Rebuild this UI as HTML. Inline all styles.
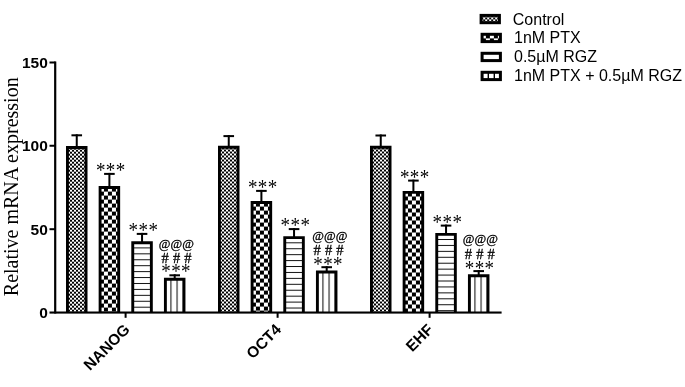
<!DOCTYPE html>
<html lang="en"><head><meta charset="utf-8"><title>Relative mRNA expression</title>
<style>html,body{margin:0;padding:0;background:#fff}body{width:685px;height:387px;overflow:hidden}svg{display:block}.ab{font-family:"Liberation Sans",Arial,sans-serif;font-weight:bold;font-size:15.5px;fill:#000}.lg{font-family:"Liberation Sans",Arial,sans-serif;font-size:16px;fill:#000}.se{font-family:"Liberation Serif","Times New Roman",serif;fill:#000}</style></head><body>
<svg width="685" height="387" viewBox="0 0 685 387">
<defs>
<pattern id="p1" width="4" height="4" patternUnits="userSpaceOnUse" x="0" y="1.7"><rect width="4" height="4" fill="#000"/><rect x="2" y="0" width="2" height="2" fill="#fff"/><rect x="0" y="2" width="2" height="2" fill="#fff"/></pattern>
<pattern id="p1b" width="4" height="4" patternUnits="userSpaceOnUse" x="1.6" y="3.5"><rect width="4" height="4" fill="#000"/><rect x="2" y="0" width="2" height="2" fill="#fff"/><rect x="0" y="2" width="2" height="2" fill="#fff"/></pattern>
<pattern id="p2" width="8" height="8" patternUnits="userSpaceOnUse" x="1.3" y="1.6"><rect width="8" height="8" fill="#000"/><rect x="0" y="0" width="4" height="4" fill="#fff"/><rect x="4" y="4" width="4" height="4" fill="#fff"/></pattern>
<pattern id="p3" width="5.93" height="5.93" patternUnits="userSpaceOnUse" y="0.17"><rect width="5.93" height="5.93" fill="#fff"/><rect x="0" y="0" width="5.93" height="1" fill="#111"/></pattern>
<pattern id="p4" width="6.1" height="6.1" patternUnits="userSpaceOnUse" x="0.4"><rect width="6.1" height="6.1" fill="#fff"/><rect x="0" y="0" width="1" height="6.1" fill="#000"/></pattern>
</defs>
<rect width="685" height="387" fill="#fff"/>
<g transform="translate(66.00,146.00)">
<rect x="1" y="1" width="19.5" height="165.50" fill="url(#p1)"/>
<path d="M1.45 166.50V1.45H20.05V166.50" fill="none" stroke="#000" stroke-width="2.9"/>
</g>
<rect x="75.75" y="134.30" width="2" height="12.70" fill="#000"/>
<rect x="71.45" y="134.30" width="10.6" height="2" fill="#000"/>
<g transform="translate(98.65,186.00)">
<rect x="1" y="1" width="19.5" height="125.50" fill="url(#p2)"/>
<path d="M1.45 126.50V1.45H20.05V126.50" fill="none" stroke="#000" stroke-width="2.9"/>
</g>
<rect x="108.40" y="172.90" width="2" height="14.10" fill="#000"/>
<rect x="104.10" y="172.90" width="10.6" height="2" fill="#000"/>
<text class="se" transform="translate(110.82,176.90) scale(1,1.1)" font-size="19" letter-spacing="0.45" text-anchor="middle">***</text>
<g transform="translate(131.30,241.30)">
<rect x="1" y="1" width="19.5" height="70.20" fill="url(#p3)"/>
<path d="M1.45 71.20V1.45H20.05V71.20" fill="none" stroke="#000" stroke-width="2.9"/>
</g>
<rect x="141.05" y="232.90" width="2" height="9.40" fill="#000"/>
<rect x="136.75" y="232.90" width="10.6" height="2" fill="#000"/>
<text class="se" transform="translate(143.47,236.90) scale(1,1.1)" font-size="19" letter-spacing="0.45" text-anchor="middle">***</text>
<g transform="translate(163.95,277.75)">
<rect x="1" y="1" width="19.5" height="33.75" fill="url(#p4)"/>
<path d="M1.45 34.75V1.45H20.05V34.75" fill="none" stroke="#000" stroke-width="2.9"/>
</g>
<rect x="173.70" y="274.30" width="2" height="4.45" fill="#000"/>
<rect x="169.40" y="274.30" width="10.6" height="2" fill="#000"/>
<text class="se" transform="translate(176.12,278.30) scale(1,1.1)" font-size="19" letter-spacing="0.45" text-anchor="middle">***</text>
<text class="se" x="176.50" y="262.50" font-size="14.5" text-anchor="middle" word-spacing="0.5" stroke="#000" stroke-width="0.3"># # #</text>
<text class="se" x="176.40" y="247.80" font-size="12.7" text-anchor="middle" stroke="#000" stroke-width="0.3">@@@</text>
<g transform="translate(218.00,145.80)">
<rect x="1" y="1" width="19.5" height="165.70" fill="url(#p1)"/>
<path d="M1.45 166.70V1.45H20.05V166.70" fill="none" stroke="#000" stroke-width="2.9"/>
</g>
<rect x="227.75" y="135.10" width="2" height="11.70" fill="#000"/>
<rect x="223.45" y="135.10" width="10.6" height="2" fill="#000"/>
<g transform="translate(250.65,201.00)">
<rect x="1" y="1" width="19.5" height="110.50" fill="url(#p2)"/>
<path d="M1.45 111.50V1.45H20.05V111.50" fill="none" stroke="#000" stroke-width="2.9"/>
</g>
<rect x="260.40" y="189.90" width="2" height="12.10" fill="#000"/>
<rect x="256.10" y="189.90" width="10.6" height="2" fill="#000"/>
<text class="se" transform="translate(262.82,193.90) scale(1,1.1)" font-size="19" letter-spacing="0.45" text-anchor="middle">***</text>
<g transform="translate(283.30,236.20)">
<rect x="1" y="1" width="19.5" height="75.30" fill="url(#p3)"/>
<path d="M1.45 76.30V1.45H20.05V76.30" fill="none" stroke="#000" stroke-width="2.9"/>
</g>
<rect x="293.05" y="228.10" width="2" height="9.10" fill="#000"/>
<rect x="288.75" y="228.10" width="10.6" height="2" fill="#000"/>
<text class="se" transform="translate(295.47,232.10) scale(1,1.1)" font-size="19" letter-spacing="0.45" text-anchor="middle">***</text>
<g transform="translate(315.95,270.50)">
<rect x="1" y="1" width="19.5" height="41.00" fill="url(#p4)"/>
<path d="M1.45 42.00V1.45H20.05V42.00" fill="none" stroke="#000" stroke-width="2.9"/>
</g>
<rect x="325.70" y="266.20" width="2" height="5.30" fill="#000"/>
<rect x="321.40" y="266.20" width="10.6" height="2" fill="#000"/>
<text class="se" transform="translate(328.12,270.70) scale(1,1.1)" font-size="19" letter-spacing="0.45" text-anchor="middle">***</text>
<text class="se" x="328.50" y="255.20" font-size="14.5" text-anchor="middle" word-spacing="0.5" stroke="#000" stroke-width="0.3"># # #</text>
<text class="se" x="329.80" y="239.70" font-size="12.7" text-anchor="middle" stroke="#000" stroke-width="0.3">@@@</text>
<g transform="translate(370.00,145.80)">
<rect x="1" y="1" width="19.5" height="165.70" fill="url(#p1)"/>
<path d="M1.45 166.70V1.45H20.05V166.70" fill="none" stroke="#000" stroke-width="2.9"/>
</g>
<rect x="379.75" y="134.50" width="2" height="12.30" fill="#000"/>
<rect x="375.45" y="134.50" width="10.6" height="2" fill="#000"/>
<g transform="translate(402.65,190.90)">
<rect x="1" y="1" width="19.5" height="120.60" fill="url(#p2)"/>
<path d="M1.45 121.60V1.45H20.05V121.60" fill="none" stroke="#000" stroke-width="2.9"/>
</g>
<rect x="412.40" y="179.60" width="2" height="12.30" fill="#000"/>
<rect x="408.10" y="179.60" width="10.6" height="2" fill="#000"/>
<text class="se" transform="translate(414.82,183.60) scale(1,1.1)" font-size="19" letter-spacing="0.45" text-anchor="middle">***</text>
<g transform="translate(435.30,232.90)">
<rect x="1" y="1" width="19.5" height="78.60" fill="url(#p3)"/>
<path d="M1.45 79.60V1.45H20.05V79.60" fill="none" stroke="#000" stroke-width="2.9"/>
</g>
<rect x="445.05" y="224.60" width="2" height="9.30" fill="#000"/>
<rect x="440.75" y="224.60" width="10.6" height="2" fill="#000"/>
<text class="se" transform="translate(447.47,228.60) scale(1,1.1)" font-size="19" letter-spacing="0.45" text-anchor="middle">***</text>
<g transform="translate(467.95,274.30)">
<rect x="1" y="1" width="19.5" height="37.20" fill="url(#p4)"/>
<path d="M1.45 38.20V1.45H20.05V38.20" fill="none" stroke="#000" stroke-width="2.9"/>
</g>
<rect x="477.70" y="270.10" width="2" height="5.20" fill="#000"/>
<rect x="473.40" y="270.10" width="10.6" height="2" fill="#000"/>
<text class="se" transform="translate(479.62,275.10) scale(1,1.1)" font-size="19" letter-spacing="0.45" text-anchor="middle">***</text>
<text class="se" x="479.80" y="258.80" font-size="14.5" text-anchor="middle" word-spacing="0.5" stroke="#000" stroke-width="0.3"># # #</text>
<text class="se" x="480.40" y="243.10" font-size="12.7" text-anchor="middle" stroke="#000" stroke-width="0.3">@@@</text>
<rect x="54.1" y="61.5" width="2.2" height="252" fill="#000"/>
<rect x="49.5" y="311.5" width="452.1" height="2.1" fill="#000"/>
<rect x="49.5" y="61.50" width="6" height="2" fill="#000"/>
<text class="ab" x="47.8" y="67.80" text-anchor="end">150</text>
<rect x="49.5" y="144.75" width="6" height="2" fill="#000"/>
<text class="ab" x="47.8" y="151.05" text-anchor="end">100</text>
<rect x="49.5" y="228.20" width="6" height="2" fill="#000"/>
<text class="ab" x="47.8" y="234.50" text-anchor="end">50</text>
<text class="ab" x="47.8" y="317.80" text-anchor="end">0</text>
<rect x="124.60" y="312" width="2" height="5.8" fill="#000"/>
<text class="ab" transform="translate(130.90,330.50) rotate(-45)" text-anchor="end">NANOG</text>
<rect x="276.60" y="312" width="2" height="5.8" fill="#000"/>
<text class="ab" transform="translate(282.10,330.50) rotate(-45)" text-anchor="end">OCT4</text>
<rect x="428.60" y="312" width="2" height="5.8" fill="#000"/>
<text class="ab" transform="translate(434.10,330.50) rotate(-45)" text-anchor="end">EHF</text>
<text class="se" font-size="20" transform="translate(18.2,296.2) rotate(-90)">Relative mRNA expression</text>
<g transform="translate(479.6,13.9)">
<rect x="1" y="1" width="19.3" height="8.3" fill="url(#p1b)"/>
<rect x="1.5" y="1.5" width="18.3" height="7.3" fill="none" stroke="#000" stroke-width="3"/></g>
<text class="lg" x="512.8" y="24.7">Control</text>
<g transform="translate(480.6,32.8)">
<rect x="1" y="1" width="19.3" height="8.3" fill="url(#p2)"/>
<rect x="1.5" y="1.5" width="18.3" height="7.3" fill="none" stroke="#000" stroke-width="3"/></g>
<text class="lg" x="514.0" y="43.4">1nM PTX</text>
<g transform="translate(480.6,51.8)">
<rect width="21.3" height="10.3" fill="#fff"/>
<rect x="1.5" y="1.5" width="18.3" height="7.3" fill="none" stroke="#000" stroke-width="3"/></g>
<text class="lg" x="514.0" y="62.3">0.5µM RGZ</text>
<g transform="translate(480.6,70.8)">
<rect width="21.3" height="10.3" fill="#fff"/><rect x="7" y="2" width="1.4" height="7" fill="#000"/><rect x="13" y="2" width="1.4" height="7" fill="#000"/>
<rect x="1.5" y="1.5" width="18.3" height="7.3" fill="none" stroke="#000" stroke-width="3"/></g>
<text class="lg" x="514.0" y="81.2">1nM PTX + 0.5µM RGZ</text>
</svg></body></html>
